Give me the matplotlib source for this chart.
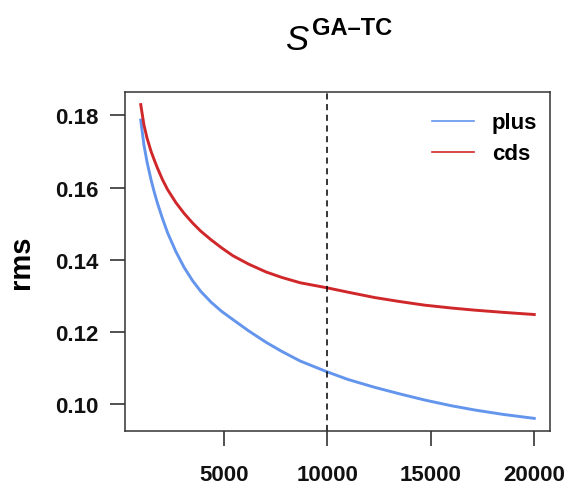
import matplotlib
matplotlib.use("Agg")
import matplotlib.pyplot as plt
from matplotlib.lines import Line2D

plt.rcParams['font.family'] = ['Liberation Sans', 'DejaVu Sans']

x_vals = [1000, 1150, 1300, 1500, 1650, 1800, 2050, 2300, 2700, 3100, 3500,
          3900, 4400, 4900, 5450, 6200, 7050, 7800, 8700, 10000, 11000,
          12300, 13500, 14700, 16000, 17150, 18500, 20000]
plus_vals = [0.1787, 0.1720, 0.1672, 0.1621, 0.1588, 0.1558, 0.1514, 0.1474,
             0.1422, 0.1378, 0.1342, 0.1312, 0.1282, 0.1257, 0.1234, 0.1203,
             0.1171, 0.1146, 0.1119, 0.1089, 0.1068, 0.1046, 0.1028, 0.1011,
             0.0995, 0.0983, 0.0971, 0.0960]
cds_vals = [0.1830, 0.1775, 0.1738, 0.1700, 0.1677, 0.1655, 0.1622, 0.1594,
            0.1558, 0.1528, 0.1502, 0.1479, 0.1455, 0.1433, 0.1411, 0.1388,
            0.1366, 0.1351, 0.1336, 0.1322, 0.1310, 0.1295, 0.1284, 0.1274,
            0.1266, 0.1260, 0.1254, 0.1248]
series_names = ['plus', 'cds']
series_colors = ['#6495ED', '#D0272A']
vline_x = 10000
x_ticks = [5000, 10000, 15000, 20000]
y_ticks = [0.10, 0.12, 0.14, 0.16, 0.18]
y_ticklabels = ['0.10', '0.12', '0.14', '0.16', '0.18']

fig = plt.figure(figsize=(5.7, 4.89), dpi=100)
ax = fig.add_axes([125/570, 1-432/489, (550-125)/570, (432-93)/489])

ax.plot(x_vals, plus_vals, color=series_colors[0], lw=2.1, solid_joinstyle='round')
ax.plot(x_vals, cds_vals, color=series_colors[1], lw=2.1, solid_joinstyle='round')
ax.axvline(vline_x, color='black', lw=1.1, linestyle=(0, (4, 3)))

ax.set_xlim(240, 20760)
ax.set_ylim(0.0925, 0.1865)
ax.set_xticks(x_ticks)
ax.set_xticklabels([str(t) for t in x_ticks])
ax.set_yticks(y_ticks)
ax.set_yticklabels(y_ticklabels)

for lab in ax.get_xticklabels() + ax.get_yticklabels():
    lab.set_fontweight('bold')
    lab.set_fontsize(16)
ax.tick_params(axis='x', length=11, width=1.1, pad=13, colors='#222222', labelcolor='#111111')
ax.tick_params(axis='y', length=11, width=1.1, pad=8, colors='#222222', labelcolor='#111111')
for s in ax.spines.values():
    s.set_linewidth(1.1)
    s.set_color('#333333')

ax.set_ylabel('rms', fontsize=21, fontweight='bold')
ax.yaxis.set_label_coords(-0.212, 0.5)

handles = [Line2D([0], [0], color=c, lw=1.2) for c in series_colors]
leg = ax.legend(handles, series_names, loc='upper left', bbox_to_anchor=(0.722, 0.94),
                frameon=False, prop={'weight': 'bold', 'size': 16},
                handlelength=1.9, handletextpad=0.8, labelspacing=0.45,
                borderaxespad=0, borderpad=0)

fig.text(285/570, 1-50/489, 'S', fontsize=25, fontstyle='italic', va='baseline', ha='left')
fig.text(312/570, 1-35/489, 'GA\u2013TC', fontsize=17, fontweight='bold', va='baseline', ha='left')

fig.savefig('out.png', dpi=100)
